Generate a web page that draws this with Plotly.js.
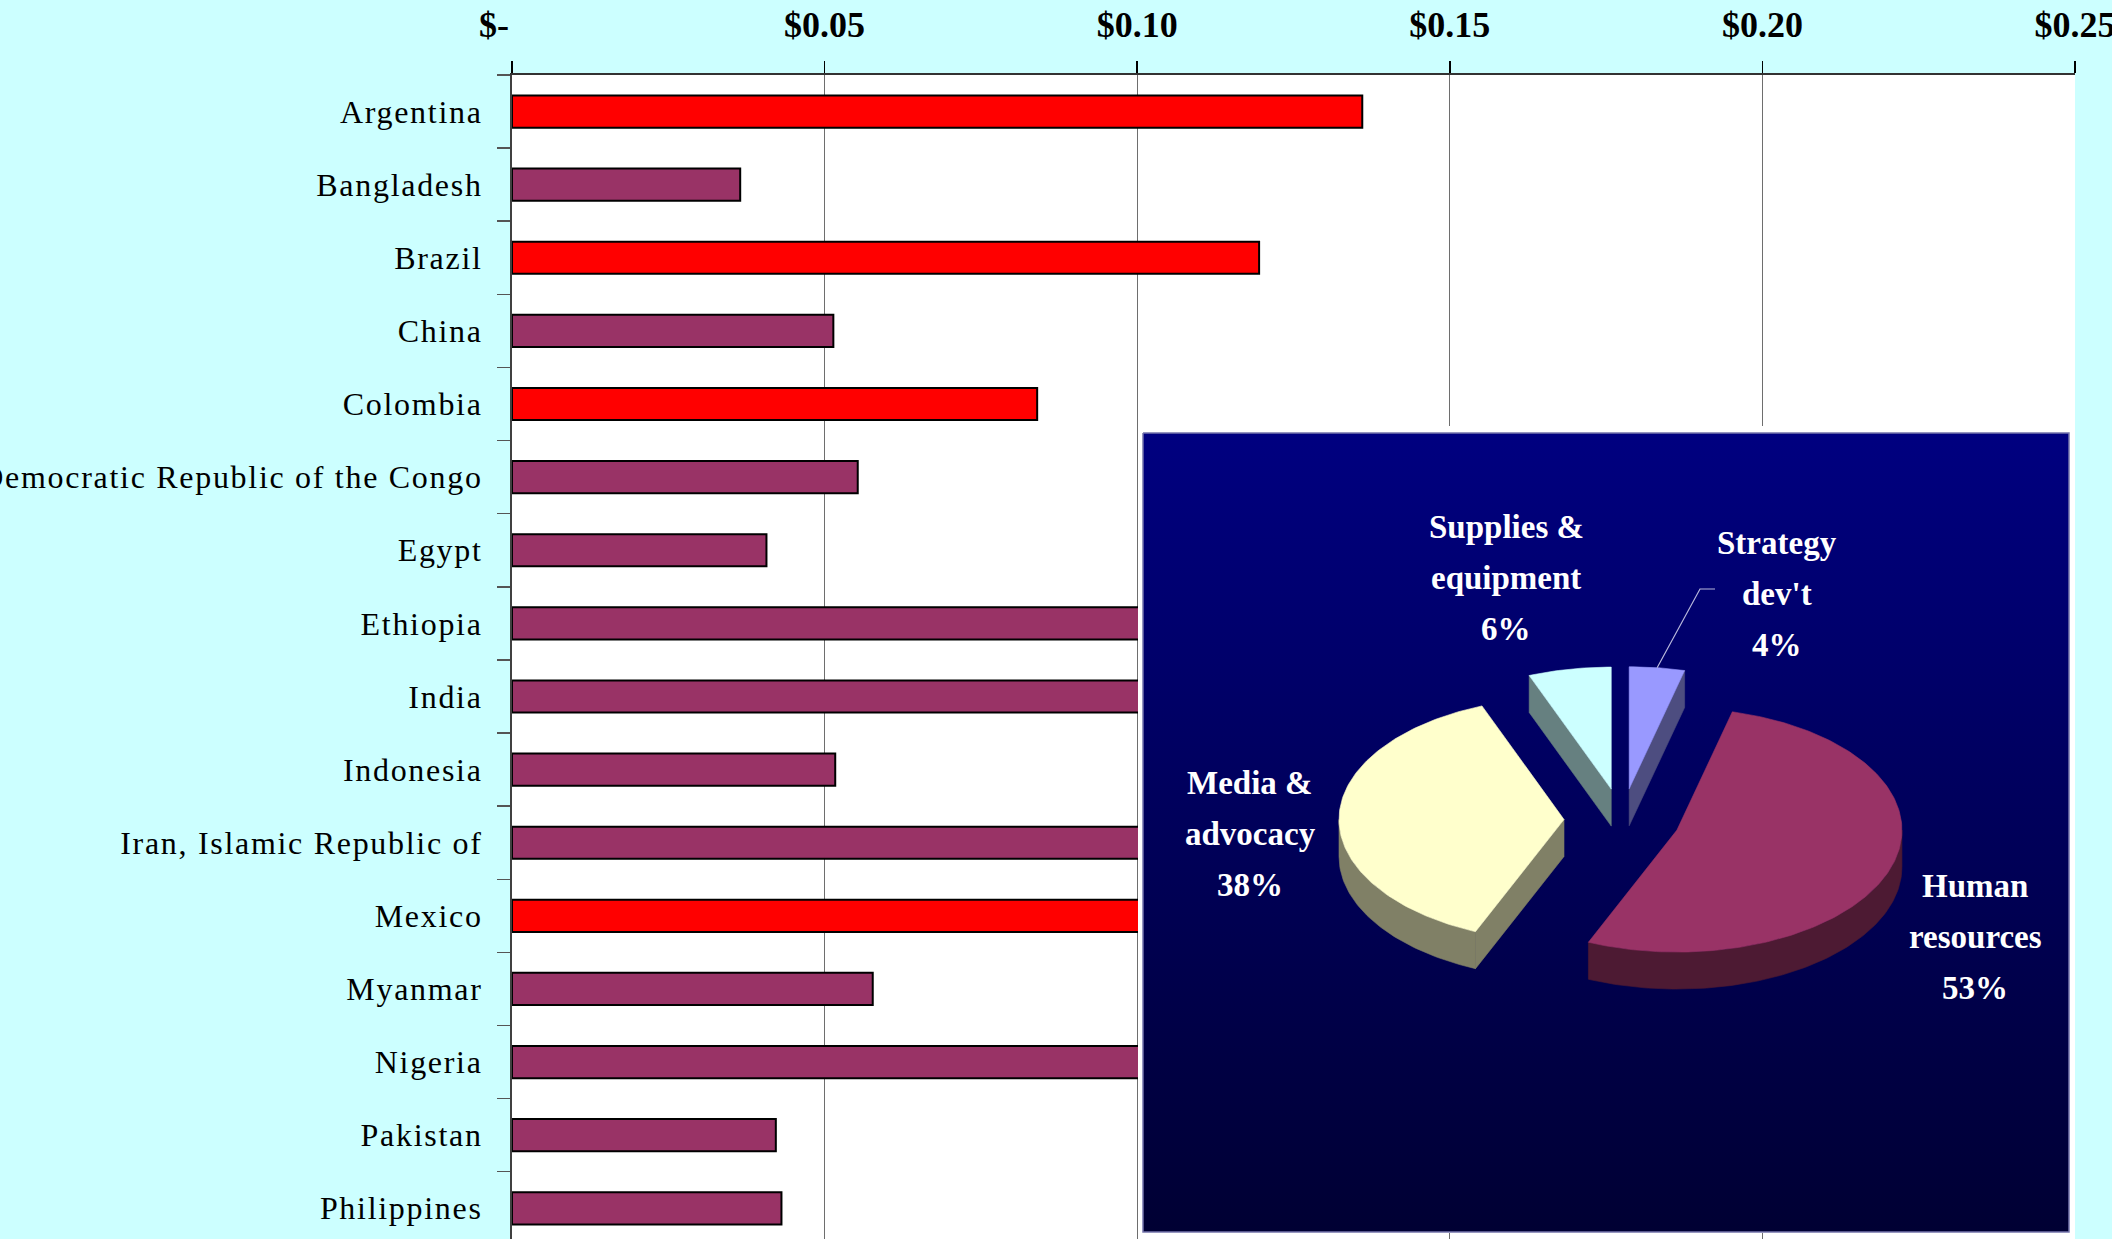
<!DOCTYPE html>
<html>
<head>
<meta charset="utf-8">
<script src="https://cdn.plot.ly/plotly-3.0.1.min.js"></script>
<style>
html,body{margin:0;padding:0;background:#CCFFFF;overflow:hidden}
#chart{width:2112px;height:1239px}
.ytick text{letter-spacing:1.7px}
</style>
</head>
<body>
<div id="chart"></div>
<script>
// ---------- data ----------
const countries = ["Argentina","Bangladesh","Brazil","China","Colombia",
  "Democratic Republic of the Congo","Egypt","Ethiopia","India","Indonesia",
  "Iran, Islamic Republic of","Mexico","Myanmar","Nigeria","Pakistan","Philippines"];
const costPerCapita = [0.136,0.0365,0.1195,0.0514,0.084,
  0.0553,0.0407,0.15,0.12,0.0517,
  0.13,0.16,0.0577,0.14,0.0422,0.0431];
const highlighted = ["Argentina","Brazil","Colombia","Mexico"];
const xTickVals = [0,0.05,0.10,0.15,0.20,0.25];
const xTickText = ["$-\u00a0\u00a0\u00a0\u00a0","$0.05","$0.10","$0.15","$0.20","$0.25"];
const pieLabels = ["Strategy<br>dev't","Human<br>resources","Media &<br>advocacy","Supplies &<br>equipment"];
const pieShares = [4,53,38,6];

// ---------- layout constants (pixels) ----------
const W = 2112, H = 1239, ML = 512, MR = 37, MT = 75, MB = 0;
const PW = W - ML - MR, PH = H - MT - MB;
const px2pX = x => (x - ML) / PW;
const px2pY = y => (H - MB - y) / PH;
const COVER = {x0:1138, x1:2074, y0:426, y1:1233};
const BOX = {x0:1143, x1:2069, y0:433, y1:1232};
const CX = 1622, CY = 820, RX = 225, RY = 122, DEPTH = 37, EXPL = 58;
const topColors = ['#9999FF','#993366','#FFFFCC','#CCFFFF'];
const sideColors = ['#4D4D80','#4D1A33','#808066','#668080'];
const labelPos = [[1777,594],[1975,937],[1250,834],[1506,578]];
const LINE_GAP = 51;

const traces = [];
// bars
traces.push({
  type:'bar', orientation:'h', y:countries, x:costPerCapita,
  xaxis:'x', yaxis:'y', width:0.44, hoverinfo:'skip',
  marker:{color:countries.map(c => highlighted.includes(c) ? '#FF0000' : '#993366'),
          line:{color:'#000000', width:2}}
});
// inset panel (white margin + navy gradient box)
traces.push({
  type:'scatter', mode:'lines', xaxis:'x2', yaxis:'y2', hoverinfo:'skip',
  x:[COVER.x0,COVER.x1,COVER.x1,COVER.x0,COVER.x0],
  y:[COVER.y0,COVER.y0,COVER.y1,COVER.y1,COVER.y0],
  fill:'toself', fillcolor:'#FFFFFF', line:{width:0, color:'rgba(0,0,0,0)'}
});
traces.push({
  type:'scatter', mode:'lines', xaxis:'x2', yaxis:'y2', hoverinfo:'skip',
  x:[BOX.x0,BOX.x1,BOX.x1,BOX.x0,BOX.x0],
  y:[BOX.y0,BOX.y0,BOX.y1,BOX.y1,BOX.y0],
  fill:'toself',
  fillgradient:{type:'vertical', colorscale:[[0,'#000080'],[1,'#000033']], start:BOX.y0, stop:BOX.y1},
  line:{width:1.5, color:'#7474AC'}
});

// pseudo-3D exploded pie computed from shares
const total = pieShares.reduce((a,b)=>a+b,0);
let acc = 0;
const slices = pieShares.map((v,i) => {
  const a0 = acc/total*360; acc += v; const a1 = acc/total*360;
  const m = (a0+a1)/2, r = m*Math.PI/180;
  const apex = [CX + EXPL*Math.sin(r), CY - EXPL*(RY/RX)*Math.cos(r)];
  return {i, a0, a1, m, apex};
});
const rim = (c, th, dy) => {
  const r = th*Math.PI/180;
  return [c[0] + RX*Math.sin(r), c[1] - RY*Math.cos(r) + (dy||0)];
};
const arc = (c, t0, t1, dy) => {
  const pts = []; const n = Math.max(2, Math.ceil(Math.abs(t1-t0)));
  for (let k=0; k<=n; k++) pts.push(rim(c, t0 + (t1-t0)*k/n, dy));
  return pts;
};
const poly = (pts, color) => ({
  type:'scatter', mode:'lines', xaxis:'x2', yaxis:'y2', hoverinfo:'skip',
  x:pts.map(p=>p[0]).concat([pts[0][0]]), y:pts.map(p=>p[1]).concat([pts[0][1]]),
  fill:'toself', fillcolor:color, line:{width:0.6, color:color}
});
// walls
slices.forEach(s => {
  const col = sideColors[s.i];
  const t0 = Math.max(s.a0, 90), t1 = Math.min(s.a1, 270);
  if (t0 < t1) {
    const top = arc(s.apex, t0, t1, 0), bot = arc(s.apex, t1, t0, DEPTH);
    traces.push(poly(top.concat(bot), col));
  }
  if (s.a0 > 180 && s.a0 < 360) {
    const p = rim(s.apex, s.a0, 0);
    traces.push(poly([s.apex, p, [p[0], p[1]+DEPTH], [s.apex[0], s.apex[1]+DEPTH]], col));
  }
  if (s.a1 > 0 && s.a1 < 180) {
    const p = rim(s.apex, s.a1, 0);
    traces.push(poly([s.apex, p, [p[0], p[1]+DEPTH], [s.apex[0], s.apex[1]+DEPTH]], col));
  }
});
// top faces
slices.forEach(s => {
  traces.push(poly([s.apex].concat(arc(s.apex, s.a0, s.a1, 0)), topColors[s.i]));
});
// leader line for the first (small) slice
{
  const s = slices[0];
  const p = rim(s.apex, s.m, 0);
  const lp = labelPos[0];
  traces.push({
    type:'scatter', mode:'lines', xaxis:'x2', yaxis:'y2', hoverinfo:'skip',
    x:[p[0], lp[0]-77, lp[0]-62], y:[p[1], lp[1]-5, lp[1]-5],
    line:{color:'#B8B8DC', width:1.2}
  });
}

// labels
const annotations = [];
pieLabels.forEach((lab, i) => {
  const lines = (lab + '<br>' + pieShares[i] + '%').split('<br>');
  lines.forEach((ln, k) => {
    annotations.push({
      xref:'x2', yref:'y2', x:labelPos[i][0], y:labelPos[i][1] + (k-(lines.length-1)/2)*LINE_GAP,
      text:ln, showarrow:false, xanchor:'center', yanchor:'middle',
      font:{family:'Liberation Serif, Times New Roman, serif', size:33, color:'#FFFFFF', weight:700}
    });
  });
});

const layout = {
  width:W, height:H,
  margin:{l:ML, r:MR, t:MT, b:MB, pad:0},
  paper_bgcolor:'#CCFFFF', plot_bgcolor:'#FFFFFF',
  showlegend:false,
  xaxis:{
    domain:[0,1], range:[0,0.25], side:'top',
    tickmode:'array', tickvals:xTickVals, ticktext:xTickText,
    tickfont:{family:'Liberation Serif, Times New Roman, serif', size:36, color:'#000', weight:700},
    ticks:'outside', ticklen:12, tickwidth:1.5, tickcolor:'#000',
    ticklabelstandoff:10, ticklabeloverflow:'allow',
    showgrid:true, gridcolor:'#6E6E6E', gridwidth:1.3,
    showline:true, linecolor:'#333333', linewidth:2,
    zeroline:false, fixedrange:true
  },
  yaxis:{
    type:'category', categoryorder:'array', categoryarray:countries,
    range:[15.42,-0.5], autorange:false,
    tickfont:{family:'Liberation Serif, Times New Roman, serif', size:32, color:'#000'},
    ticks:'outside', tickson:'boundaries', ticklen:13, tickwidth:1.5, tickcolor:'#555',
    ticklabelstandoff:21, ticklabeloverflow:'allow',
    showgrid:false, showline:true, linecolor:'#404040', linewidth:2,
    zeroline:false, fixedrange:true
  },
  xaxis2:{domain:[px2pX(COVER.x0), px2pX(COVER.x1)], range:[COVER.x0, COVER.x1],
    anchor:'y2', visible:false, fixedrange:true},
  yaxis2:{domain:[px2pY(COVER.y1), px2pY(COVER.y0)], range:[COVER.y1, COVER.y0],
    anchor:'x2', visible:false, fixedrange:true},
  annotations:annotations
};

Plotly.newPlot('chart', traces, layout, {displayModeBar:false, staticPlot:true});
</script>
</body>
</html>
